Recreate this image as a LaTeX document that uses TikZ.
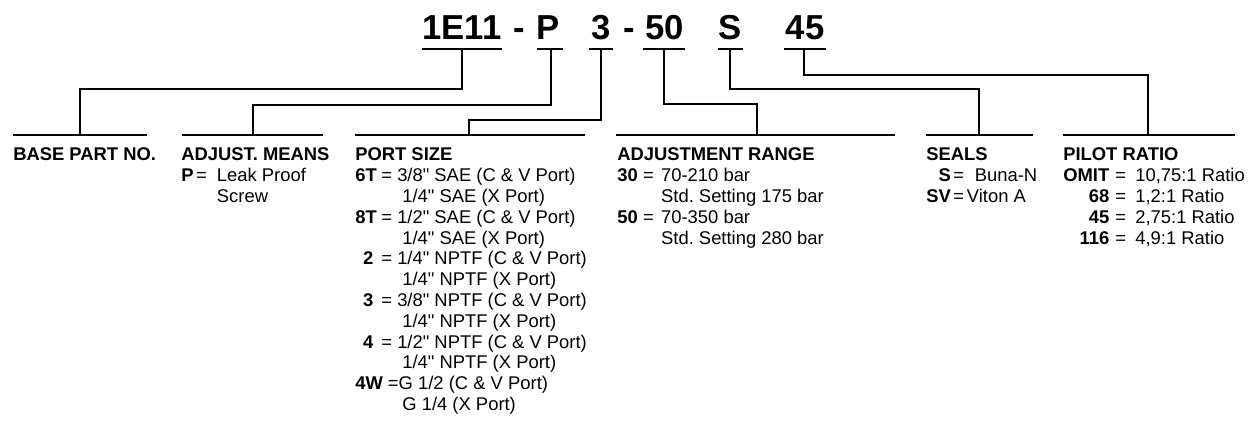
\documentclass[tikz,border=0pt]{standalone}
\usepackage{fontspec}
\setmainfont{Liberation Sans}[Ligatures=TeXOff]
\frenchspacing
\tikzset{
  code/.style={font=\bfseries\fontsize{26}{30}\selectfont, anchor=base, inner sep=0pt},
  field/.style={font=\fontsize{13.8}{15.6}\selectfont, anchor=base west, inner sep=0pt, align=left},
  bar/.style={line width=1.6pt},
}

\begin{document}
\begin{tikzpicture}[x=0.75pt,y=-0.75pt]
\useasboundingbox (0,0) rectangle (1260,423);
% part number
\node[code] (c1) at (462,40) {1E11};
\node[code] (m1) at (519,40) {-};
\node[code] (c2) at (548.5,40) {P};
\node[code] (c3) at (601.5,40) {3};
\node[code] (m2) at (629,40) {-};
\node[code] (c4) at (664.5,40) {50};
\node[code] (c5) at (730,40) {S};
\node[code] (c6) at (805,40) {45};
% short bars under the code
\draw[bar] (422,49) -- (502,49);
\draw[bar] (537,49) -- (563,49);
\draw[bar] (589,49) -- (613,49);
\draw[bar] (643,49) -- (685,49);
\draw[bar] (718,49) -- (743,49);
\draw[bar] (784,49) -- (826,49);
\coordinate (u1) at (462,49);
\coordinate (u2) at (551,49);
\coordinate (u3) at (601,49);
\coordinate (u4) at (664,49);
\coordinate (u5) at (730,49);
\coordinate (u6) at (804,49);
% long bars over the fields
\draw[bar] (13,135) -- (147,135);
\draw[bar] (182,135) -- (323,135);
\draw[bar] (355,135) -- (585,135);
\draw[bar] (616,135) -- (895,135);
\draw[bar] (926,135) -- (1033,135);
\draw[bar] (1063,135) -- (1235,135);
\coordinate (d1) at (80,135);
\coordinate (d2) at (253,135);
\coordinate (d3) at (469,135);
\coordinate (d4) at (757,135);
\coordinate (d5) at (979,135);
\coordinate (d6) at (1148,135);
% leaders
\draw[bar] (u1) -- ++(0,40) -| (d1);
\draw[bar] (u2) -- ++(0,56) -| (d2);
\draw[bar] (u3) -- ++(0,71) -| (d3);
\draw[bar] (u4) -- ++(0,55) -| (d4);
\draw[bar] (u5) -- ++(0,40) -| (d5);
\draw[bar] (u6) -- ++(0,26) -| (d6);
% fields
\node[field] (base) at (13,161) {\bfseries BASE PART NO.};
\node[field] (means) at (181,161) {\begin{tabular}[t]{@{}r@{\hspace{2pt}}l@{}}
\multicolumn{2}{@{}l@{}}{\bfseries ADJUST. MEANS}\\
\bfseries P & =\hspace{7.5pt}Leak Proof\\
 & \phantom{=}\hspace{7.5pt}Screw
\end{tabular}};
\node[field] (port) at (355,161) {\begin{tabular}[t]{@{}r@{\hspace{3.5pt}}l@{}}
\multicolumn{2}{@{}l@{}}{\bfseries PORT SIZE}\\
\bfseries 6T & = 3/8" SAE (C \& V Port)\\
 & \phantom{=}\ \ 1/4" SAE (X Port)\\
\bfseries 8T & = 1/2" SAE (C \& V Port)\\
 & \phantom{=}\ \ 1/4" SAE (X Port)\\
\bfseries 2\hspace{2.5pt} & = 1/4" NPTF (C \& V Port)\\
 & \phantom{=}\ \ 1/4" NPTF (X Port)\\
\bfseries 3\hspace{2.5pt} & = 3/8" NPTF (C \& V Port)\\
 & \phantom{=}\ \ 1/4" NPTF (X Port)\\
\bfseries 4\hspace{2.5pt} & = 1/2" NPTF (C \& V Port)\\
 & \phantom{=}\ \ 1/4" NPTF (X Port)\\
\multicolumn{2}{@{}l@{}}{\textbf{4W} =G 1/2 (C \& V Port)}\\
 & \phantom{=}\ \ G 1/4 (X Port)
\end{tabular}};
\node[field] (range) at (617,161) {\begin{tabular}[t]{@{}r@{\hspace{4pt}}l@{}}
\multicolumn{2}{@{}l@{}}{\bfseries ADJUSTMENT RANGE}\\
\bfseries 30 & =\hspace{5.5pt}70-210 bar\\
 & \phantom{=}\hspace{5.5pt}Std. Setting 175 bar\\
\bfseries 50 & =\hspace{5.5pt}70-350 bar\\
 & \phantom{=}\hspace{5.5pt}Std. Setting 280 bar
\end{tabular}};
\node[field] (seals) at (926,161) {\begin{tabular}[t]{@{}r@{\hspace{2pt}}l@{}}
\multicolumn{2}{@{}l@{}}{\bfseries SEALS}\\
\bfseries S & =\hspace{8pt}Buna-N\\
\bfseries SV & =\hspace{2pt}Viton A
\end{tabular}};
\node[field] (pilot) at (1063,161) {\begin{tabular}[t]{@{}r@{\hspace{4.5pt}}l@{}}
\multicolumn{2}{@{}l@{}}{\bfseries PILOT RATIO}\\
\bfseries OMIT & =\hspace{7pt}10,75:1 Ratio\\
\bfseries 68 & =\hspace{7pt}1,2:1 Ratio\\
\bfseries 45 & =\hspace{7pt}2,75:1 Ratio\\
\bfseries 116 & =\hspace{7pt}4,9:1 Ratio
\end{tabular}};
\end{tikzpicture}
\end{document}
